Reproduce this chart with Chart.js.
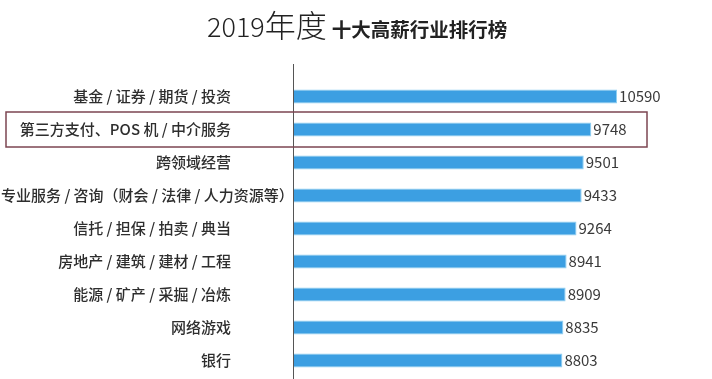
<!DOCTYPE html>
<html>
<head>
<meta charset="utf-8">
<script src="https://cdn.jsdelivr.net/npm/chart.js@4/dist/chart.umd.min.js"></script>
<style>
  body { margin: 0; background: #fff; }
  #wrap { position: relative; width: 712px; height: 379px; overflow: hidden; }
  #title {
    position: absolute; left: 207px; top: 1px; display: flex; align-items: baseline;
    font-family: "Noto Sans CJK SC", sans-serif; color: #222; white-space: nowrap;
  }
  #title .year { font-size: 27px; font-weight: 300; }
  #title .du { font-size: 31px; font-weight: 300; }
  #title .small { font-size: 19.5px; font-weight: 700; margin-left: 5px; }
</style>
</head>
<body>
<div id="wrap">
  <div id="title"><span class="year">2019</span><span class="du">年度</span><span class="small">十大高薪行业排行榜</span></div>
  <canvas id="salaryChart" width="712" height="379"></canvas>
</div>
<script>
const industries = [
    '基金 / 证券 / 期货 / 投资',
    '第三方支付、POS 机 / 中介服务',
    '跨领域经营',
    '专业服务 / 咨询（财会 / 法律 / 人力资源等）',
    '信托 / 担保 / 拍卖 / 典当',
    '房地产 / 建筑 / 建材 / 工程',
    '能源 / 矿产 / 采掘 / 冶炼',
    '网络游戏',
    '银行'
];
const salaries = [10590, 9748, 9501, 9433, 9264, 8941, 8909, 8835, 8803];
const highlightIndex = 1; // boxed row

const labelFont = '500 15px "Noto Sans CJK SC", sans-serif';
const valueFont = '15px "Noto Sans CJK SC", sans-serif';

// draws category labels, value labels, the axis line and the red box
const decorations = {
    id: 'decorations',
    afterDatasetsDraw(chart) {
        const { ctx, chartArea } = chart;
        const yScale = chart.scales.y;
        const meta = chart.getDatasetMeta(0);
        const band = yScale.height / industries.length;

        ctx.save();
        // axis line
        ctx.strokeStyle = '#555';
        ctx.lineWidth = 1;
        ctx.beginPath();
        ctx.moveTo(chartArea.left + 0.5, chartArea.top - 16);
        ctx.lineTo(chartArea.left + 0.5, chart.height);
        ctx.stroke();

        ctx.textBaseline = 'middle';

        industries.forEach((name, i) => {
            const y = yScale.getPixelForTick(i);
            // category label, right aligned but never cut on the left
            ctx.font = labelFont;
            ctx.fillStyle = '#2e2e2e';
            ctx.textAlign = 'right';
            const w = ctx.measureText(name).width;
            ctx.fillText(name, Math.max(231, w + 1), y);
            // value label
            ctx.font = valueFont;
            ctx.textAlign = 'left';
            ctx.fillStyle = '#3a3a3a';
            ctx.fillText(String(salaries[i]), meta.data[i].x + 2, y);
        });

        // highlight box
        const yc = yScale.getPixelForTick(highlightIndex);
        ctx.strokeStyle = '#7c4652';
        ctx.lineWidth = 1.5;
        ctx.strokeRect(6, yc - band / 2 - 1, 641, band + 2);
        ctx.restore();
    }
};

new Chart(document.getElementById('salaryChart').getContext('2d'), {
    type: 'bar',
    data: {
        labels: industries,
        datasets: [{
            data: salaries,
            backgroundColor: '#3c9fe2',
            borderColor: '#8fd0f2',
            borderWidth: 1,
            barPercentage: 0.42,
            categoryPercentage: 1
        }]
    },
    options: {
        indexAxis: 'y',
        responsive: false,
        animation: false,
        layout: { padding: { left: 293, right: 12, top: 80, bottom: 2 } },
        scales: {
            x: {
                min: 0, max: 13300,
                display: false
            },
            y: {
                display: false
            }
        },
        plugins: {
            legend: { display: false },
            tooltip: { enabled: false }
        }
    },
    plugins: [decorations]
});
</script>
</body>
</html>
